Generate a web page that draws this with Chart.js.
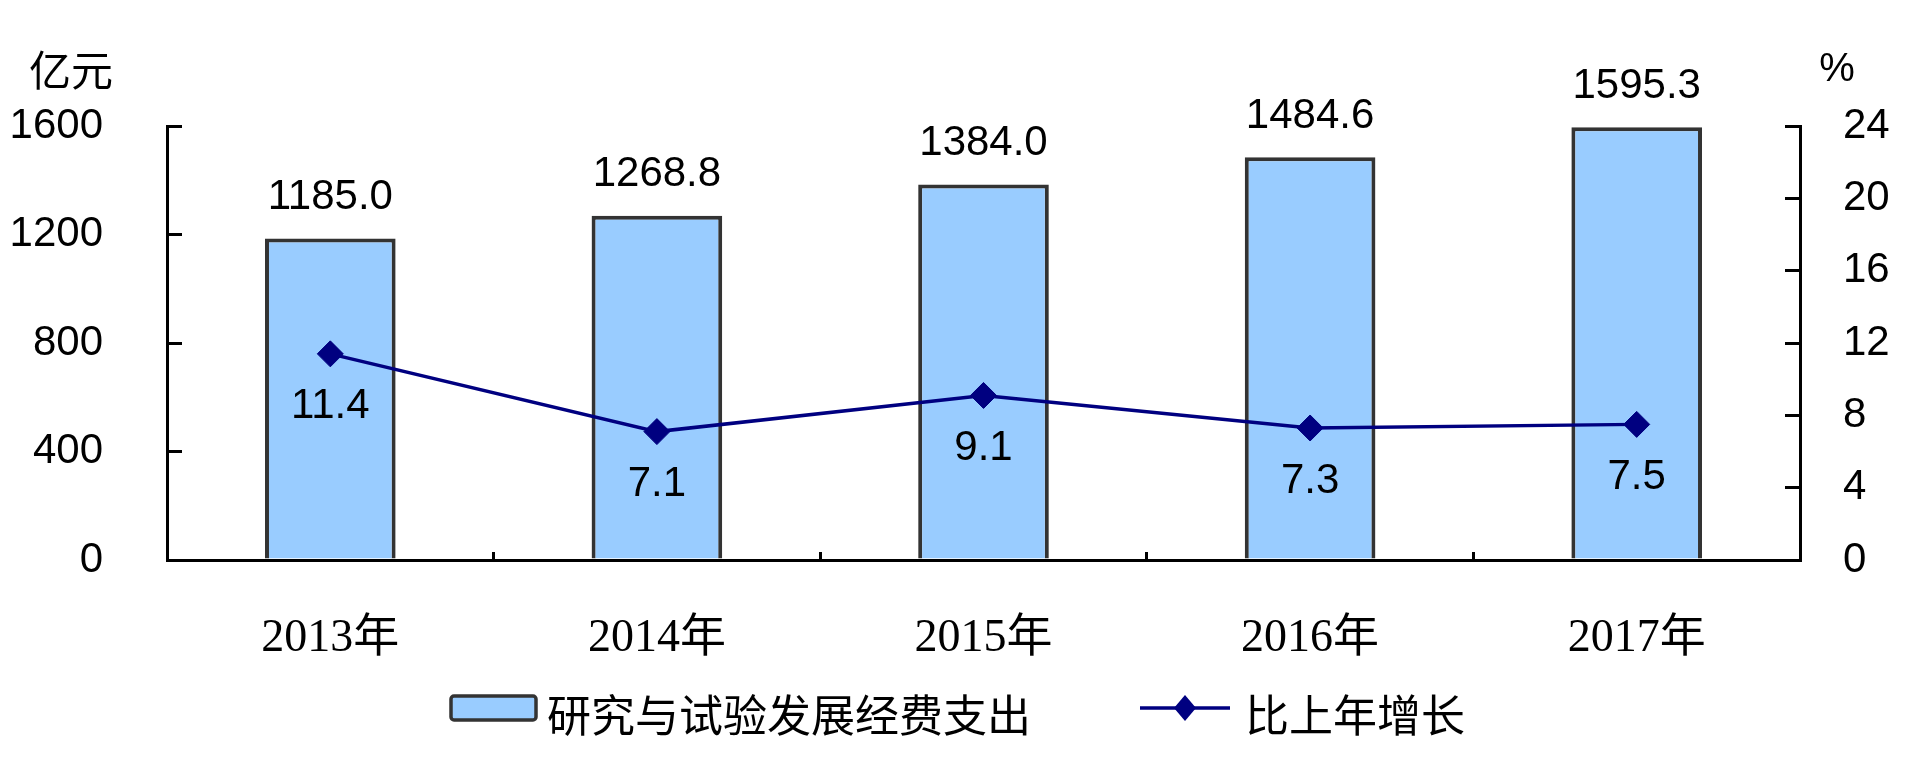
<!DOCTYPE html>
<html>
<head>
<meta charset="utf-8">
<script src="https://cdn.jsdelivr.net/npm/chart.js@4.4.1/dist/chart.umd.min.js"></script>
<style>
html,body{margin:0;padding:0;background:#fff;overflow:hidden;width:1920px;height:759px;}
#wrap{width:2032px;height:759px;position:absolute;left:-112px;top:0;}
</style>
</head>
<body>
<div id="wrap"><canvas id="c"></canvas></div>
<script>
// ---- data ----
const categories = ['2013年', '2014年', '2015年', '2016年', '2017年'];
const expenditure = [1185.0, 1268.8, 1384.0, 1484.6, 1595.3];
const growth = [11.4, 7.1, 9.1, 7.3, 7.5];
const seriesNames = ['研究与试验发展经费支出', '比上年增长'];
const leftAxis = [0, 1600, 400];   // min, max, step
const rightAxis = [0, 24, 4];      // min, max, step
const leftUnit = '亿元';
const rightUnit = '%';

// ---- styles ----
const BAR_FILL = '#99CCFF';
const BAR_EDGE = '#333333';
const LINE_COL = '#000080';
const SANS = '"Liberation Sans", Arial, sans-serif';
const CJK = '"Noto Sans CJK SC", sans-serif';
const SERIF = '"Liberation Serif", "Noto Sans CJK SC", serif';
const LEG_W = 182;

function barIcon() {
  const c = document.createElement('canvas');
  c.width = LEG_W + 28; c.height = 60;
  const g = c.getContext('2d');
  g.fillStyle = BAR_FILL; g.strokeStyle = BAR_EDGE; g.lineWidth = 3.5;
  const x = c.width - 88, y = 11, w = 85, h = 24;
  g.beginPath();
  if (g.roundRect) g.roundRect(x, y, w, h, 3); else g.rect(x, y, w, h);
  g.fill(); g.stroke();
  return c;
}
function lineIcon() {
  const c = document.createElement('canvas');
  c.width = LEG_W + 28; c.height = 60;
  const g = c.getContext('2d');
  const x0 = c.width - 97, x1 = c.width - 7, y = 23;
  g.strokeStyle = LINE_COL; g.lineWidth = 3.5;
  g.beginPath(); g.moveTo(x0, y); g.lineTo(x1, y); g.stroke();
  const cx = (x0 + x1) / 2;
  g.fillStyle = LINE_COL;
  g.beginPath(); g.moveTo(cx - 11, y); g.lineTo(cx, y - 13); g.lineTo(cx + 11, y); g.lineTo(cx, y + 13); g.closePath(); g.fill();
  return c;
}

const labelPlugin = {
  id: 'valueLabels',
  afterDatasetsDraw(chart) {
    const ctx = chart.ctx;
    ctx.save();
    ctx.fillStyle = '#000';
    ctx.textAlign = 'center';
    ctx.textBaseline = 'middle';
    ctx.font = '42px ' + SANS;
    chart.getDatasetMeta(0).data.forEach((el, i) => {
      ctx.fillText(expenditure[i].toFixed(1), el.x, el.y - 41);
    });
    chart.getDatasetMeta(1).data.forEach((el, i) => {
      ctx.fillText(growth[i].toFixed(1), el.x, el.y + 53);
    });
    const top = chart.chartArea.top;
    ctx.font = '42px ' + CJK;
    ctx.fillText(leftUnit, chart.scales.y.right - 96, top - 56);
    ctx.font = '40px ' + SANS;
    ctx.fillText(rightUnit, chart.scales.y1.left + 37, top - 56);
    ctx.restore();
  }
};

const icons = [barIcon(), lineIcon()];

new Chart(document.getElementById('c'), {
  data: {
    labels: categories,
    datasets: [
      {
        type: 'bar',
        label: seriesNames[0],
        data: expenditure,
        yAxisID: 'y',
        backgroundColor: BAR_FILL,
        borderColor: BAR_EDGE,
        borderWidth: 4,
        barPercentage: 0.8,
        categoryPercentage: 0.5,
        order: 2
      },
      {
        type: 'line',
        label: seriesNames[1],
        data: growth,
        yAxisID: 'y1',
        borderColor: LINE_COL,
        borderWidth: 3.5,
        pointStyle: 'rectRot',
        pointRadius: 13,
        pointHoverRadius: 13,
        pointBackgroundColor: LINE_COL,
        pointBorderColor: LINE_COL,
        pointBorderWidth: 1,
        tension: 0,
        fill: false,
        order: 1
      }
    ]
  },
  options: {
    responsive: true,
    maintainAspectRatio: false,
    animation: false,
    layout: { padding: { top: 126, left: 0, right: 0, bottom: 12 } },
    plugins: {
      tooltip: { enabled: false },
      legend: {
        display: true,
        position: 'bottom',
        labels: {
          usePointStyle: true,
          pointStyleWidth: LEG_W,
          padding: 10,
          color: '#000',
          font: { family: CJK, size: 44 },
          generateLabels: () => seriesNames.map((t, i) => ({
            text: t, pointStyle: icons[i], datasetIndex: i, hidden: false,
            fillStyle: 'transparent', strokeStyle: 'transparent', lineWidth: 0, fontColor: '#000'
          }))
        },
        onClick: () => {}
      }
    },
    scales: {
      x: {
        type: 'category',
        offset: true,
        grid: { display: true, offset: true, drawOnChartArea: false, tickLength: -8, color: '#000', lineWidth: 3 },
        border: { display: true, color: '#000', width: 3 },
        ticks: { color: '#000', padding: 59, font: { family: SERIF, size: 46 }, maxRotation: 0, autoSkip: false },
        afterFit: s => { s.height = 123; }
      },
      y: {
        position: 'left',
        min: leftAxis[0], max: leftAxis[1],
        grid: { display: true, drawOnChartArea: false, tickLength: -15, color: '#000', lineWidth: 3 },
        border: { display: true, color: '#000', width: 3 },
        ticks: { stepSize: leftAxis[2], color: '#000', padding: 79, font: { family: SANS, size: 42 }, callback: v => String(v) },
        afterFit: s => { s.width = 279; }
      },
      y1: {
        position: 'right',
        min: rightAxis[0], max: rightAxis[1],
        grid: { display: true, drawOnChartArea: false, tickLength: -15, color: '#000', lineWidth: 3 },
        border: { display: true, color: '#000', width: 3 },
        ticks: { stepSize: rightAxis[2], color: '#000', padding: 58, font: { family: SANS, size: 42 }, callback: v => String(v) },
        afterFit: s => { s.width = 120; }
      }
    }
  },
  plugins: [labelPlugin]
});
</script>
</body>
</html>
